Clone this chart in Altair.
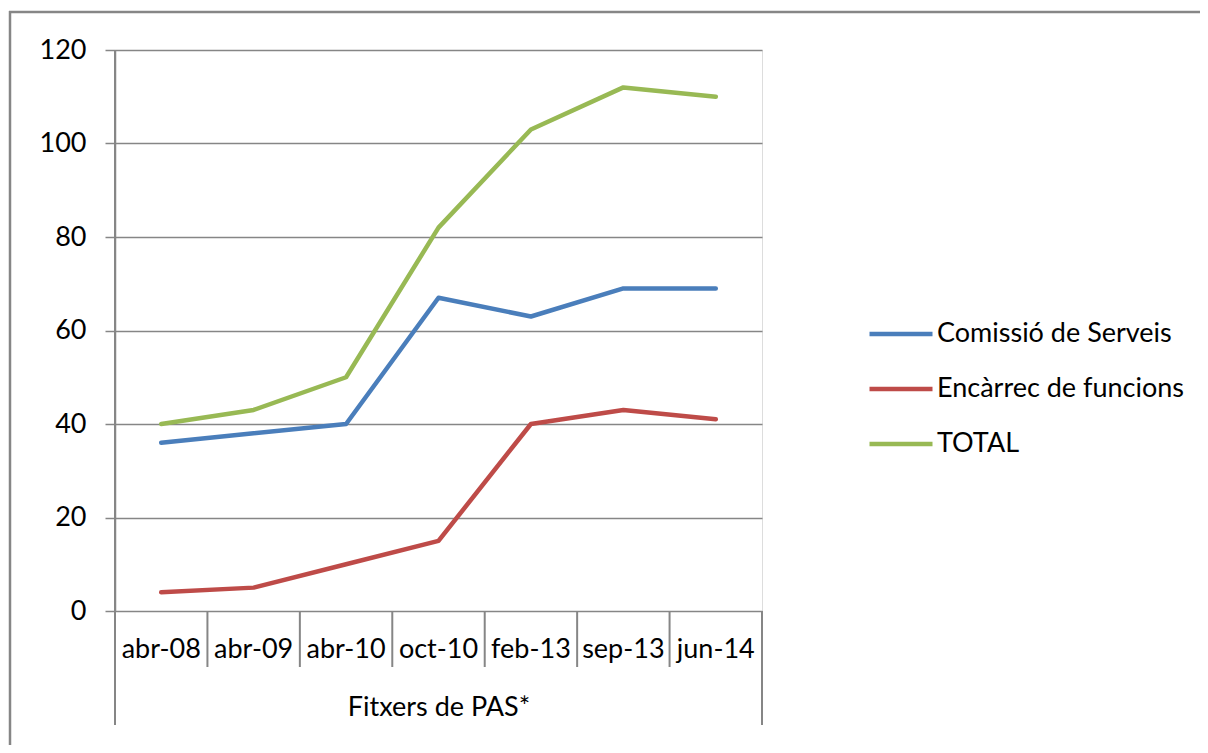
import altair as alt
import pandas as pd

categories = ["abr-08", "abr-09", "abr-10", "oct-10", "feb-13", "sep-13", "jun-14"]
series_names = ["Comissió de Serveis", "Encàrrec de funcions", "TOTAL"]
comissio = [36, 38, 40, 67, 63, 69, 69]
encarrec = [4, 5, 10, 15, 40, 43, 41]
total = [40, 43, 50, 82, 103, 112, 110]
colors = ["#4A7EBB", "#BE4B48", "#98B954"]
y_ticks = [0, 20, 40, 60, 80, 100, 120]
group_label = "Fitxers de PAS*"

rows = []
for name, vals in zip(series_names, [comissio, encarrec, total]):
    for c, v in zip(categories, vals):
        rows.append({"cat": c, "serie": name, "valor": v})
df = pd.DataFrame(rows)

FONT = "Lato"
FS = 27
GRAY = "#868686"
W, H = 647, 561

xscale = alt.Scale(type="band", domain=categories, paddingInner=0, paddingOuter=0)

one = pd.DataFrame({"k": [0]})

frame_top = alt.Chart(one).mark_rule(color=GRAY, strokeWidth=2.5).encode(
    x=alt.value(-106), x2=alt.value(1100), y=alt.value(-38)
)
frame_left = alt.Chart(one).mark_rule(color=GRAY, strokeWidth=2.5).encode(
    x=alt.value(-105), y=alt.value(-39), y2=alt.value(720)
)

lines = alt.Chart(df).mark_line(strokeWidth=4.5, strokeCap="round", strokeJoin="round").encode(
    x=alt.X("cat:N", scale=xscale, sort=categories, bandPosition=0.5,
            axis=alt.Axis(title=group_label, ticks=False, domain=False, grid=False,
                          bandPosition=0.5,
                          labelFont=FONT, labelFontSize=FS, labelColor="#000000",
                          labelBaseline="middle", labelPadding=38, labelAngle=0,
                          labelAlign="center",
                          titleFont=FONT, titleFontSize=FS, titleFontWeight="normal",
                          titleColor="#000000", titleBaseline="middle", titleY=96)),
    y=alt.Y("valor:Q", scale=alt.Scale(domain=[0, 120], nice=False),
            axis=alt.Axis(title=None, values=y_ticks, grid=True, gridColor=GRAY, gridWidth=1.5,
                          domain=True, domainColor=GRAY, domainWidth=1.5,
                          ticks=True, tickColor=GRAY, tickWidth=1.5, tickSize=10,
                          labelFont=FONT, labelFontSize=FS, labelColor="#000000",
                          labelPadding=19)),
    color=alt.Color("serie:N", scale=alt.Scale(domain=series_names, range=colors),
                    sort=series_names,
                    legend=alt.Legend(title=None, orient="none", legendX=752, legendY=250,
                                      symbolType="stroke", symbolSize=3969, symbolStrokeWidth=4.5,
                                      labelFont=FONT, labelFontSize=FS, labelColor="#000000",
                                      labelOffset=2, rowPadding=8, labelLimit=400)),
    detail="serie:N",
)

seps = alt.Chart(pd.DataFrame({"cat": categories[1:]})).mark_rule(color=GRAY, strokeWidth=2).encode(
    x=alt.X("cat:N", scale=xscale, sort=categories, bandPosition=0),
    y=alt.value(H), y2=alt.value(617),
)

left_line = alt.Chart(one).mark_rule(color=GRAY, strokeWidth=2).encode(
    x=alt.value(0), y=alt.value(0), y2=alt.value(675)
)
right_line = alt.Chart(one).mark_rule(color=GRAY, strokeWidth=2).encode(
    x=alt.value(W), y=alt.value(H), y2=alt.value(675)
)

chart = alt.layer(frame_top, frame_left, seps, left_line, right_line, lines).properties(
    width=W, height=H,
    autosize=alt.AutoSizeParams(type="none"),
    padding={"left": 107, "top": 42, "right": 1192 - 107 - W, "bottom": 737 - 42 - H},
).configure_view(stroke=None).configure(background="white")

chart.save("out.html", embed_options={"renderer": "svg", "actions": False})
